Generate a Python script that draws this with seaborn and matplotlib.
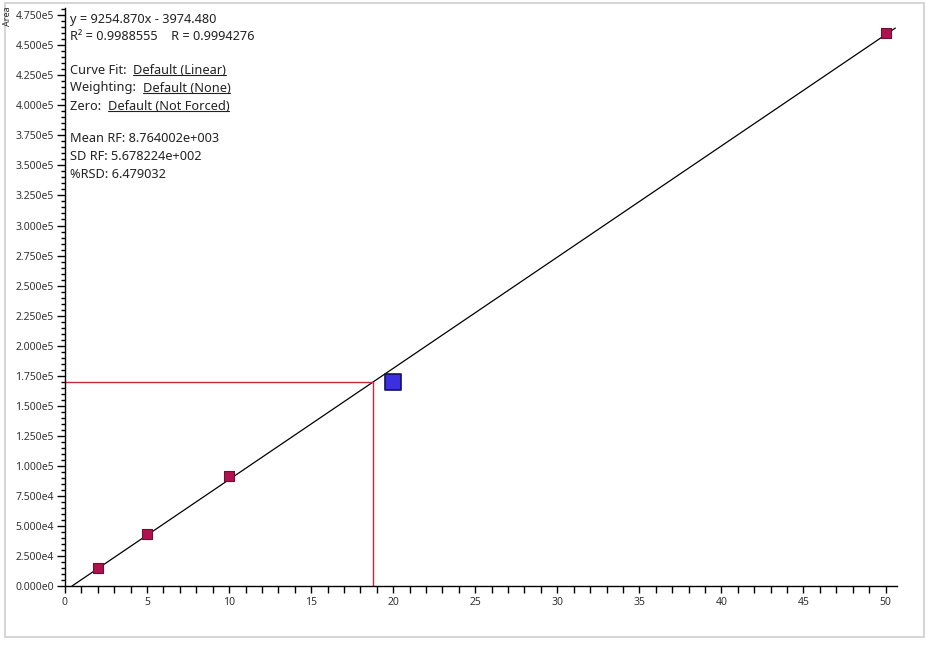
import numpy as np
import pandas as pd
import seaborn as sns
import matplotlib.pyplot as plt
from matplotlib.ticker import MultipleLocator, FuncFormatter
from matplotlib.patches import Rectangle
from matplotlib.lines import Line2D

# calibration standards
conc = [2, 5, 10, 50]
area = [15000, 43500, 91500, 460000]
# unknown sample
unknown_conc = [20]
unknown_area = [170000]

slope = 9254.870
intercept = -3974.480
found_area = 170000

info_lines = [
    ("y = 9254.870x - 3974.480", None, 19),
    ("R\u00b2 = 0.9988555    R = 0.9994276", None, 36),
    ("Curve Fit:  ", "Default (Linear)", 70),
    ("Weighting:  ", "Default (None)", 88),
    ("Zero:  ", "Default (Not Forced)", 106),
    ("Mean RF: 8.764002e+003", None, 138),
    ("SD RF: 5.678224e+002", None, 157),
    ("%RSD: 6.479032", None, 175),
]

sns.set_theme(style="white")
plt.rcParams['font.family'] = ['Noto Sans', 'DejaVu Sans']

W, H = 929, 653
fig = plt.figure(figsize=(W / 100, H / 100), dpi=100)
fig.patch.set_facecolor("white")
ax = fig.add_axes([65 / W, 1 - 586 / H, (897 - 65) / W, (586 - 8) / H])

df = pd.DataFrame({"conc": conc, "area": area})
unk = pd.DataFrame({"conc": unknown_conc, "area": unknown_area})

# regression line
x0 = -intercept / slope
fit = pd.DataFrame({"conc": [x0, 50.6]})
fit["area"] = slope * fit["conc"] + intercept
sns.lineplot(data=fit, x="conc", y="area", color="black", lw=0.9, ax=ax)

# read-back of the unknown
x_found = (found_area - intercept) / slope
ax.plot([0, x_found], [found_area, found_area], color="#c8283c", lw=1)
ax.plot([x_found, x_found], [0, found_area], color="#c8283c", lw=1)

sns.scatterplot(data=df, x="conc", y="area", marker="s", s=52,
                color="#b0124f", edgecolor="#6e1030", linewidth=0.8, ax=ax, zorder=5)
sns.scatterplot(data=unk, x="conc", y="area", marker="s", s=120,
                color="#3b2fe0", edgecolor="#141060", linewidth=1.2, ax=ax, zorder=5)

ax.set_xlim(0, 50.7)
ax.set_ylim(0, 481000)
ax.set_xlabel("")
ax.set_ylabel("")
for s in ["top", "right"]:
    ax.spines[s].set_visible(False)
for s in ["left", "bottom"]:
    ax.spines[s].set_color("black")
    ax.spines[s].set_linewidth(1)

def sci(v, pos):
    if v == 0:
        return "0.000e0"
    e = int(np.floor(np.log10(abs(v))))
    return f"{v / 10 ** e:.3f}e{e}"

ax.xaxis.set_major_locator(MultipleLocator(5))
ax.xaxis.set_minor_locator(MultipleLocator(1))
ax.yaxis.set_major_locator(MultipleLocator(25000))
ax.yaxis.set_minor_locator(MultipleLocator(5000))
ax.yaxis.set_major_formatter(FuncFormatter(sci))
ax.tick_params(which="both", direction="out", color="black", width=1,
               labelsize=7.5, labelcolor="#333333", bottom=True, left=True)
ax.tick_params(axis="y", which="major", length=6, pad=2)
ax.tick_params(axis="y", which="minor", length=3)
ax.tick_params(axis="x", which="major", length=5, pad=3)
ax.tick_params(axis="x", which="minor", length=5)

fig.text(8 / W, 1 - 16 / H, "Area", rotation=90, fontsize=6.5, color="#333333",
         ha="center", va="center")

# info block with underlined settings
fig.canvas.draw()
renderer = fig.canvas.get_renderer()
tx = 70
fs = 9.2
for plain, under, ypix in info_lines:
    t = fig.text(tx / W, 1 - ypix / H, plain, fontsize=fs, color="#222222",
                 ha="left", va="center")
    if under:
        bb = t.get_window_extent(renderer)
        u = fig.text(bb.x1 / W, 1 - ypix / H, under, fontsize=fs, color="#222222",
                     ha="left", va="center")
        ub = u.get_window_extent(renderer)
        yl = ub.y0 + 2
        fig.add_artist(Line2D([ub.x0 / W, ub.x1 / W], [yl / H, yl / H],
                              transform=fig.transFigure, color="#222222", lw=0.8))

fig.patches.append(Rectangle((5 / W, 1 - 637 / H), (924 - 5) / W, (637 - 3) / H,
                             transform=fig.transFigure, fill=False,
                             edgecolor="#d6d6d6", lw=1.5))

fig.savefig("out.png", dpi=100)
